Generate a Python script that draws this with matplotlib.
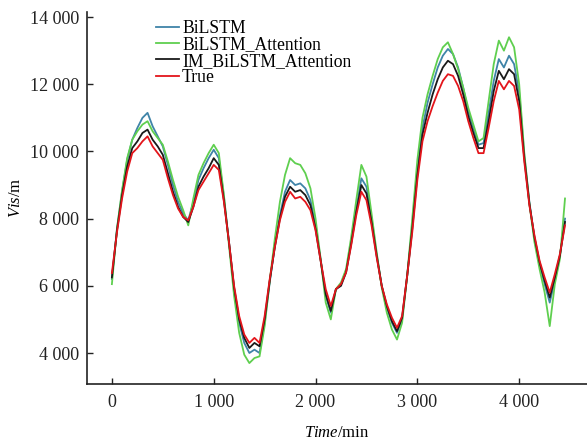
import numpy as np
import matplotlib
matplotlib.use("Agg")
import matplotlib.pyplot as plt
from matplotlib.ticker import FuncFormatter

plt.rcParams["font.family"] = ["Liberation Serif", "DejaVu Serif"]
plt.rcParams["mathtext.fontset"] = "custom"
plt.rcParams["mathtext.rm"] = "Liberation Serif"
plt.rcParams["mathtext.it"] = "Liberation Serif:italic"

# time axis (minutes), one reading every 50 min
time_min = np.arange(0, 4451, 50)

true_vis = [
    6380, 7600, 8600, 9400, 9950, 10100, 10300, 10450, 10150, 9950,
    9750, 9200, 8700, 8300, 8050, 7950, 8350, 8850, 9100, 9350,
    9600, 9450, 8500, 7300, 6000, 5100, 4550, 4300, 4450, 4300,
    5100, 6200, 7150, 7950, 8500, 8800, 8600, 8650, 8500, 8250,
    7650, 6750, 5900, 5400, 5900, 6050, 6400, 7200, 8100, 8800,
    8550, 7800, 6850, 6000, 5450, 5050, 4750, 5100, 6300, 7600,
    9150, 10300, 10900, 11350, 11750, 12100, 12300, 12250, 11950, 11500,
    10900, 10400, 9950, 9950, 10700, 11500, 12100, 11850, 12100, 11950,
    11250, 9700, 8400, 7500, 6750, 6250, 5800, 6350, 6950, 7800,
]

im_bilstm_att = [
    6250, 7650, 8700, 9550, 10100, 10300, 10550, 10650, 10350, 10150,
    9900, 9350, 8800, 8350, 8050, 7900, 8350, 8950, 9250, 9500,
    9800, 9600, 8550, 7300, 5950, 5000, 4450, 4150, 4300, 4200,
    5000, 6150, 7150, 8000, 8650, 8950, 8800, 8850, 8700, 8400,
    7700, 6750, 5750, 5250, 5900, 6000, 6400, 7250, 8200, 9000,
    8750, 7900, 6900, 6000, 5400, 4950, 4650, 5050, 6300, 7700,
    9300, 10500, 11150, 11700, 12150, 12500, 12700, 12600, 12250, 11700,
    11050, 10550, 10100, 10100, 10900, 11800, 12400, 12150, 12450, 12300,
    11500, 9800, 8450, 7450, 6700, 6150, 5650, 6250, 6900, 7900,
]

bilstm = [
    6200, 7700, 8800, 9750, 10350, 10700, 11000, 11150, 10750, 10450,
    10150, 9600, 9000, 8500, 8150, 7950, 8500, 9150, 9500, 9800,
    10050, 9800, 8650, 7300, 5900, 4900, 4300, 4000, 4100, 4000,
    4900, 6100, 7200, 8100, 8800, 9150, 9000, 9050, 8900, 8550,
    7800, 6800, 5700, 5200, 5900, 6050, 6450, 7300, 8300, 9200,
    8950, 8000, 6950, 6000, 5350, 4900, 4600, 5000, 6300, 7800,
    9450, 10700, 11450, 12000, 12500, 12850, 13050, 12900, 12500, 11900,
    11200, 10700, 10200, 10250, 11150, 12100, 12750, 12500, 12850, 12600,
    11750, 9900, 8500, 7400, 6650, 6050, 5500, 6150, 6900, 8000,
]

bilstm_att = [
    6050, 7700, 8850, 9800, 10350, 10600, 10800, 10900, 10600, 10400,
    10200, 9700, 9150, 8650, 8250, 7800, 8600, 9300, 9650, 9950,
    10200, 9950, 8700, 7200, 5700, 4600, 3950, 3700, 3850, 3900,
    4800, 6150, 7400, 8500, 9300, 9800, 9650, 9600, 9350, 8900,
    8000, 6800, 5500, 5000, 5900, 6100, 6500, 7450, 8550, 9600,
    9250, 8150, 7000, 5950, 5200, 4700, 4400, 4900, 6300, 8000,
    9750, 11000, 11700, 12250, 12750, 13100, 13250, 12900, 12450, 11900,
    11300, 10800, 10300, 10400, 11500, 12600, 13300, 13000, 13400, 13100,
    12000, 9950, 8450, 7300, 6500, 5800, 4800, 6050, 6800, 8600,
]

series_names = ["BiLSTM", "BiLSTM_Attention", "IM_BiLSTM_Attention", "True"]
series_colors = ["#3f84a8", "#5fcf4f", "#1a1a1a", "#e3151b"]

fig = plt.figure(figsize=(5.87, 4.46), dpi=100)
ax = fig.add_axes([0.149, 0.139, 0.851, 0.834])

for vals, name, col in zip([bilstm, bilstm_att, im_bilstm_att, true_vis], series_names, series_colors):
    ax.plot(time_min, vals, color=col, lw=1.3, label=name)

ax.set_xlim(-240, 4666)
ax.set_ylim(3077, 14150)
ax.set_xticks([0, 1000, 2000, 3000, 4000])
ax.set_yticks([4000, 6000, 8000, 10000, 12000, 14000])
fmt = FuncFormatter(lambda v, p: f"{v:,.0f}".replace(",", " "))
ax.xaxis.set_major_formatter(fmt)
ax.yaxis.set_major_formatter(fmt)
ax.tick_params(direction="in", length=4, width=1, labelsize=13, colors="#222222")
ax.tick_params(axis="x", pad=7)
ax.tick_params(axis="y", pad=6)

for s in ["top", "right"]:
    ax.spines[s].set_visible(False)
for s in ["left", "bottom"]:
    ax.spines[s].set_linewidth(1.2)
    ax.spines[s].set_color("#222222")

ax.set_xlabel(r"$\mathit{Time}$/min", fontsize=12, labelpad=10)
ax.set_ylabel(r"$\mathit{Vis}$/m", fontsize=12, labelpad=4)

ax.legend(loc="upper left", bbox_to_anchor=(0.131, 0.987), frameon=False,
          fontsize=12.7, handlelength=1.3, handletextpad=0.15,
          labelspacing=-0.05, borderaxespad=0.0, borderpad=0.2)

fig.savefig("out.png", dpi=100, facecolor="white")
